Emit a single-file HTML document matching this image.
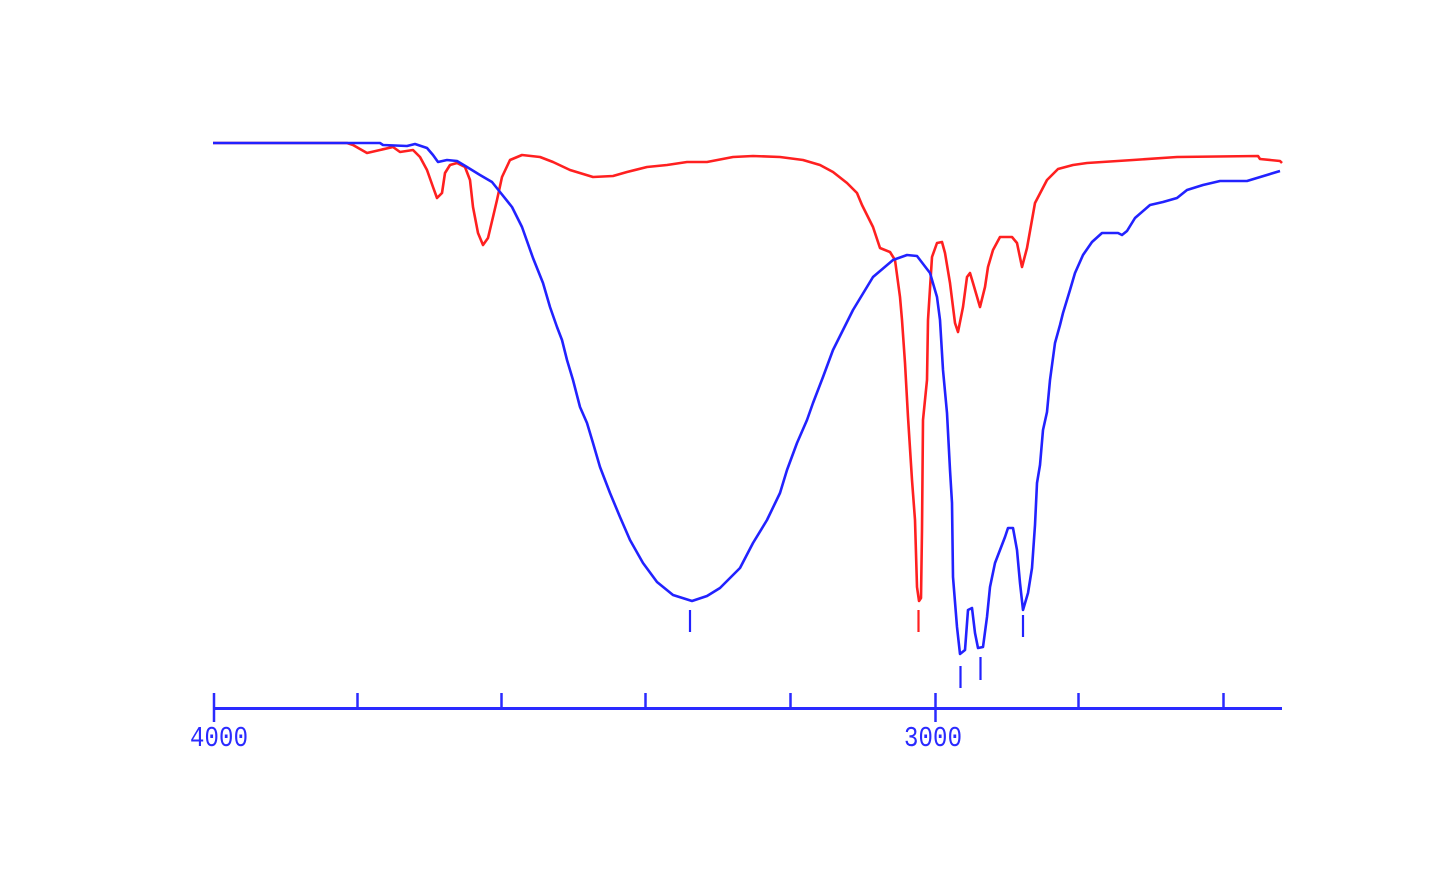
<!DOCTYPE html>
<html>
<head>
<meta charset="utf-8">
<style>
html,body{margin:0;padding:0;background:#fff;}
svg{display:block;}
text{font-family:"Liberation Mono","DejaVu Sans Mono",monospace;}
</style>
</head>
<body>
<svg width="1456" height="888" viewBox="0 0 1456 888" xmlns="http://www.w3.org/2000/svg">
<rect width="1456" height="888" fill="#fff"/>
<!-- axis -->
<g stroke="#2a2aff" fill="none">
<line x1="213" y1="708.5" x2="1282" y2="708.5" stroke-width="3"/>
<line x1="214" y1="693" x2="214" y2="722" stroke-width="2.5"/>
<line x1="935.5" y1="693" x2="935.5" y2="722" stroke-width="2.5"/>
<line x1="357.5" y1="693" x2="357.5" y2="708" stroke-width="2.5"/>
<line x1="501.5" y1="693" x2="501.5" y2="708" stroke-width="2.5"/>
<line x1="645.5" y1="693" x2="645.5" y2="708" stroke-width="2.5"/>
<line x1="790.5" y1="693" x2="790.5" y2="708" stroke-width="2.5"/>
<line x1="1078.5" y1="693" x2="1078.5" y2="708" stroke-width="2.5"/>
<line x1="1223.5" y1="693" x2="1223.5" y2="708" stroke-width="2.5"/>
</g>
<g fill="#2a2aff" font-size="24">
<text x="190" y="746" transform="translate(0,-149.2) scale(1,1.2)" textLength="58">4000</text>
<text x="904" y="746" transform="translate(0,-149.2) scale(1,1.2)" textLength="58">3000</text>
</g>
<!-- red curve -->
<polyline fill="none" stroke="#ff2020" stroke-width="2.6" stroke-linejoin="round" points="213,143 347,143 353,145 367,153 380,150 393,147 400,152 413,150 420,157 427,170 433,187 437,198 442,193 445,173 450,165 457,163 465,167 470,180 473,207 478,233 483,245 488,238 493,217 497,200 502,177 510,160 522,155 540,157 553,162 570,170 593,177 613,176 627,172 647,167 667,165 687,162 707,162 733,157 753,156 780,157 803,160 820,165 833,172 847,183 857,193 862,205 873,227 880,248 890,252 895,260 900,297 902,320 905,363 908,417 912,480 915,520 917,587 919,601 921,598 922,530 923,420 927,380 928,320 932,257 937,243 942,242 945,253 950,283 955,323 958,332 963,307 967,277 970,273 973,283 980,307 985,287 988,267 993,250 1000,237 1012,237 1017,243 1022,267 1027,248 1035,203 1047,180 1058,169 1073,165 1087,163 1133,160 1177,157 1258,156 1260,159 1280,161 1282,163"/>
<!-- blue curve -->
<polyline fill="none" stroke="#2222ff" stroke-width="2.6" stroke-linejoin="round" points="213,143 380,143 383,145 407,146 415,144 427,148 433,155 438,162 447,160 457,161 467,167 480,175 492,182 500,192 512,207 522,227 533,258 543,283 550,307 557,327 562,340 567,360 573,380 580,407 587,423 593,443 600,467 610,493 620,517 630,540 643,563 657,582 673,595 692,601 707,596 720,588 740,568 753,543 767,520 780,493 787,470 797,443 807,420 813,403 823,377 833,350 843,330 853,310 873,277 893,260 907,255 917,256 930,273 937,297 940,320 943,370 947,413 950,470 952,503 953,577 957,627 960,654 965,650 968,610 972,608 975,633 978,648 983,647 987,617 990,587 995,563 1000,550 1005,537 1008,528 1013,528 1017,550 1020,583 1023,610 1028,593 1032,568 1035,525 1037,483 1040,465 1043,430 1047,412 1050,380 1055,343 1060,325 1063,313 1070,290 1075,273 1083,255 1092,242 1102,233 1118,233 1122,235 1127,231 1135,218 1150,205 1163,202 1177,198 1187,190 1203,185 1220,181 1247,181 1280,171"/>
<!-- peak markers -->
<g stroke-width="2.2">
<line x1="690" y1="610" x2="690" y2="632" stroke="#2222ff"/>
<line x1="960.5" y1="666" x2="960.5" y2="688" stroke="#2222ff"/>
<line x1="980.5" y1="657" x2="980.5" y2="680" stroke="#2222ff"/>
<line x1="1023" y1="615" x2="1023" y2="637" stroke="#2222ff"/>
<line x1="918.5" y1="610" x2="918.5" y2="632" stroke="#ff2020"/>
</g>
</svg>
</body>
</html>
